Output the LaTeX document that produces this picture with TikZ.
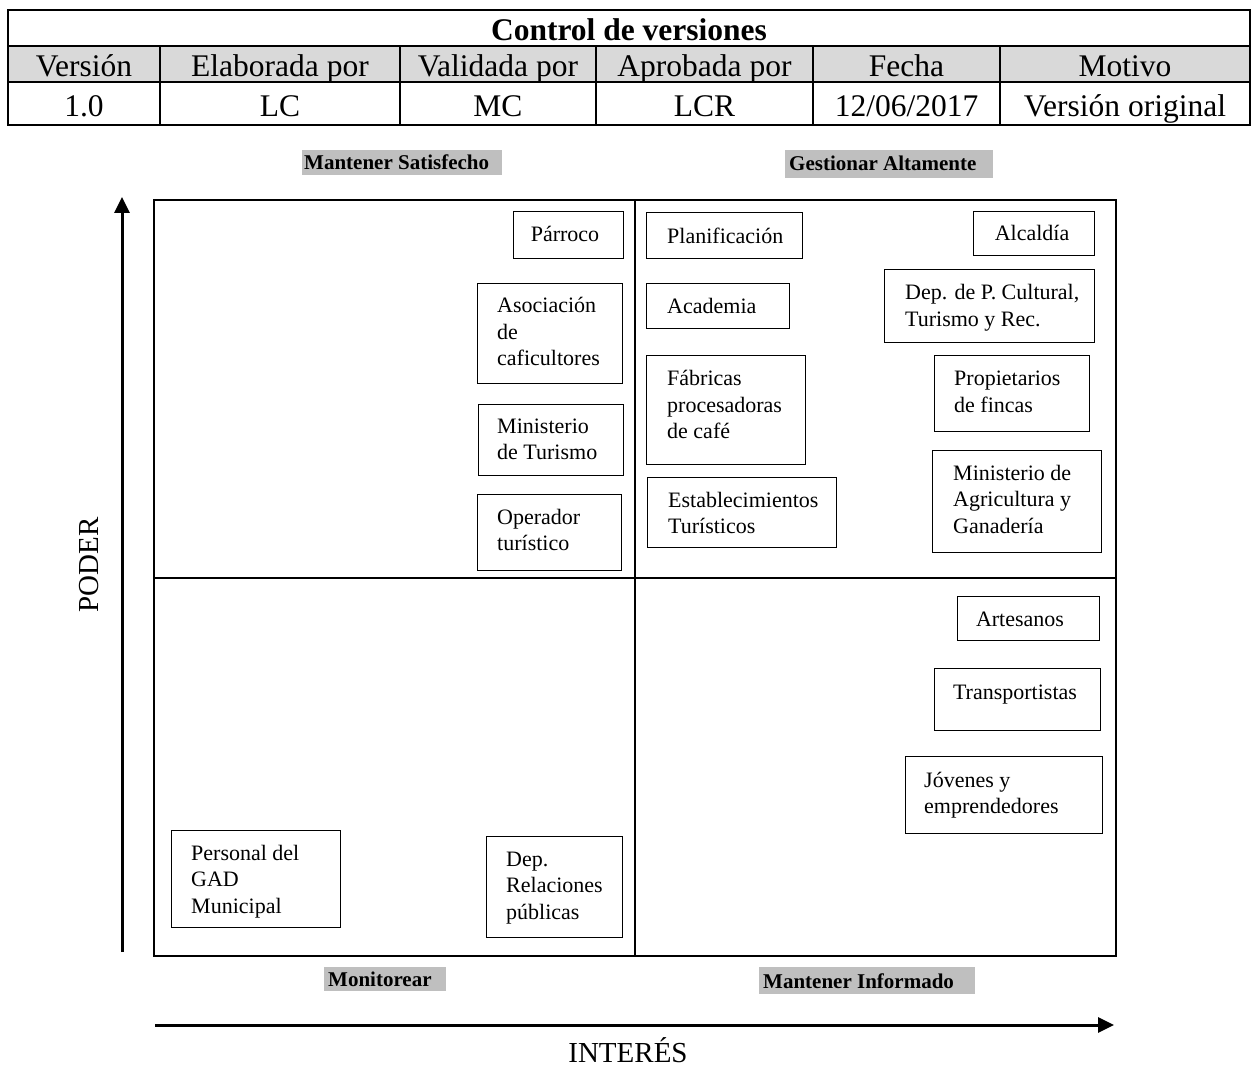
\documentclass[tikz,border=0pt]{standalone}
\usepackage{fontspec}
\setmainfont{Liberation Serif}
\usetikzlibrary{arrows.meta}
\definecolor{hdrgray}{HTML}{D9D9D9}
\definecolor{taggray}{HTML}{BFBFBF}
\newcommand\boxlines[1]{\parbox[t]{8cm}{\raggedright #1}}
\begin{document}
\begin{tikzpicture}[x=1pt,y=-1pt,
  tblline/.style={line width=1.6pt},
  cell/.style={inner sep=0pt, anchor=base, font=\fontsize{31.5}{36}\selectfont},
  frame/.style={line width=1.8pt},
  stake/.style={draw, line width=1.1pt, inner sep=0pt, anchor=north west},
  stxt/.style={inner sep=0pt, anchor=base west, font=\fontsize{22}{26.5}\selectfont},
  ctxt/.style={inner sep=0pt, anchor=base, font=\fontsize{22}{26.5}\selectfont},
  tagbox/.style={fill=taggray, inner sep=0pt, anchor=north west},
  tagtxt/.style={inner sep=0pt, anchor=base west, font=\bfseries\fontsize{21}{25}\selectfont},
  axislabel/.style={inner sep=0pt, anchor=base, font=\fontsize{29}{34}\selectfont},
  axis/.style={line width=3pt, -{Triangle[length=16pt,width=15pt]}},
]
\useasboundingbox (0,0) rectangle (1251,1067);

% ---- version table ----
\fill[hdrgray] (8,46) rectangle (1250,82);
\draw[tblline] (8,10) rectangle (1250,125);
\draw[tblline] (8,46) -- (1250,46);
\draw[tblline] (8,82) -- (1250,82);
\foreach \cx in {160,400,596,813,1000} \draw[tblline] (\cx,46) -- (\cx,125);
\node[cell, font=\bfseries\fontsize{31.5}{36}\selectfont] (title) at (629,41) {Control de versiones};
\node[cell] (h1) at (84,77) {Versión};
\node[cell] (h2) at (280,77) {Elaborada por};
\node[cell] (h3) at (498,77) {Validada por};
\node[cell] (h4) at (704.5,77) {Aprobada por};
\node[cell] (h5) at (906.5,77) {Fecha};
\node[cell] (h6) at (1125,77) {Motivo};
\node[cell] (v1) at (84,117) {1.0};
\node[cell] (v2) at (280,117) {LC};
\node[cell] (v3) at (498,117) {MC};
\node[cell] (v4) at (704.5,117) {LCR};
\node[cell] (v5) at (906.5,117) {12/06/2017};
\node[cell] (v6) at (1125,117) {Versión original};

% ---- quadrant labels ----
\node[tagbox, minimum width=200pt, minimum height=25pt] (tsat) at (302,150) {};
\node[tagtxt] (tsatt) at (304,170) {Mantener Satisfecho};
\node[tagbox, minimum width=208pt, minimum height=28pt] (tges) at (785,150) {};
\node[tagtxt] (tgest) at (789,171) {Gestionar Altamente};
\node[tagbox, minimum width=122pt, minimum height=24pt] (tmon) at (324,967) {};
\node[tagtxt] (tmont) at (328,986) {Monitorear};
\node[tagbox, minimum width=216pt, minimum height=27pt] (tinf) at (759,967) {};
\node[tagtxt] (tinft) at (763,988) {Mantener Informado};

% ---- power / interest grid ----
\draw[frame] (154,200) rectangle (1116,956);
\draw[frame] (635,200) -- (635,956);
\draw[frame] (154,578) -- (1116,578);

% ---- axes ----
\coordinate (pbot) at (122,952);
\coordinate (ptop) at (122,197);
\draw[axis] (pbot) -- (ptop);
\node[axislabel, rotate=90] (poder) at (98,565) {PODER};
\coordinate (ileft) at (155,1025);
\coordinate (iright) at (1114,1025);
\draw[axis] (ileft) -- (iright);
\node[axislabel] (interes) at (628,1062) {INTERÉS};

% ---- stakeholders: high power, low interest ----
\node[stake, minimum width=110pt, minimum height=47pt] (parroco) at (513,211) {};
\node[ctxt] (parrocot) at (565,242) {Párroco};
\node[stake, minimum width=145pt, minimum height=100pt] (asoc) at (477,283) {};
\node[stxt] (asoct) at (497,313) {\boxlines{Asociación\\de\\caficultores}};
\node[stake, minimum width=145pt, minimum height=71pt] (mintur) at (478,404) {};
\node[stxt] (minturt) at (497,433) {\boxlines{Ministerio\\de Turismo}};
\node[stake, minimum width=144pt, minimum height=76pt] (oper) at (477,494) {};
\node[stxt] (opert) at (497,524) {\boxlines{Operador\\turístico}};

% ---- stakeholders: high power, high interest ----
\node[stake, minimum width=156pt, minimum height=46pt] (plan) at (646,212) {};
\node[stxt] (plant) at (667,244) {Planificación};
\node[stake, minimum width=143pt, minimum height=45pt] (acad) at (646,283) {};
\node[stxt] (acadt) at (667,314) {Academia};
\node[stake, minimum width=159pt, minimum height=109pt] (fabr) at (646,355) {};
\node[stxt] (fabrt) at (667,386) {\boxlines{Fábricas\\procesadoras\\de café}};
\node[stake, minimum width=189pt, minimum height=70pt] (estab) at (647,477) {};
\node[stxt] (estabt) at (668,507) {\boxlines{Establecimientos\\Turísticos}};
\node[stake, minimum width=121pt, minimum height=44pt] (alc) at (973,211) {};
\node[ctxt] (alct) at (1032,241) {Alcaldía};
\node[stake, minimum width=210pt, minimum height=73pt] (depc) at (884,269) {};
\node[stxt] (depct) at (905,300) {\boxlines{Dep. de P. Cultural,\\Turismo y Rec.}};
\node[stake, minimum width=155pt, minimum height=76pt] (prop) at (934,355) {};
\node[stxt] (propt) at (954,386) {\boxlines{Propietarios\\de fincas}};
\node[stake, minimum width=169pt, minimum height=102pt] (mag) at (932,450) {};
\node[stxt] (magt) at (953,480) {\boxlines{Ministerio de\\Agricultura y\\Ganadería}};

% ---- stakeholders: low power, high interest ----
\node[stake, minimum width=142pt, minimum height=44pt] (art) at (957,596) {};
\node[ctxt] (artt) at (1020,626) {Artesanos};
\node[stake, minimum width=166pt, minimum height=62pt] (trans) at (934,668) {};
\node[ctxt] (transt) at (1015,699) {Transportistas};
\node[stake, minimum width=197pt, minimum height=77pt] (jov) at (905,756) {};
\node[stxt] (jovt) at (924,787) {\boxlines{Jóvenes y\\emprendedores}};

% ---- stakeholders: low power, low interest ----
\node[stake, minimum width=169pt, minimum height=97pt] (gad) at (171,830) {};
\node[stxt] (gadt) at (191,860) {\boxlines{Personal del\\GAD\\Municipal}};
\node[stake, minimum width=136pt, minimum height=101pt] (rrpp) at (486,836) {};
\node[stxt] (rrppt) at (506,866) {\boxlines{Dep.\\Relaciones\\públicas}};
\end{tikzpicture}
\end{document}
